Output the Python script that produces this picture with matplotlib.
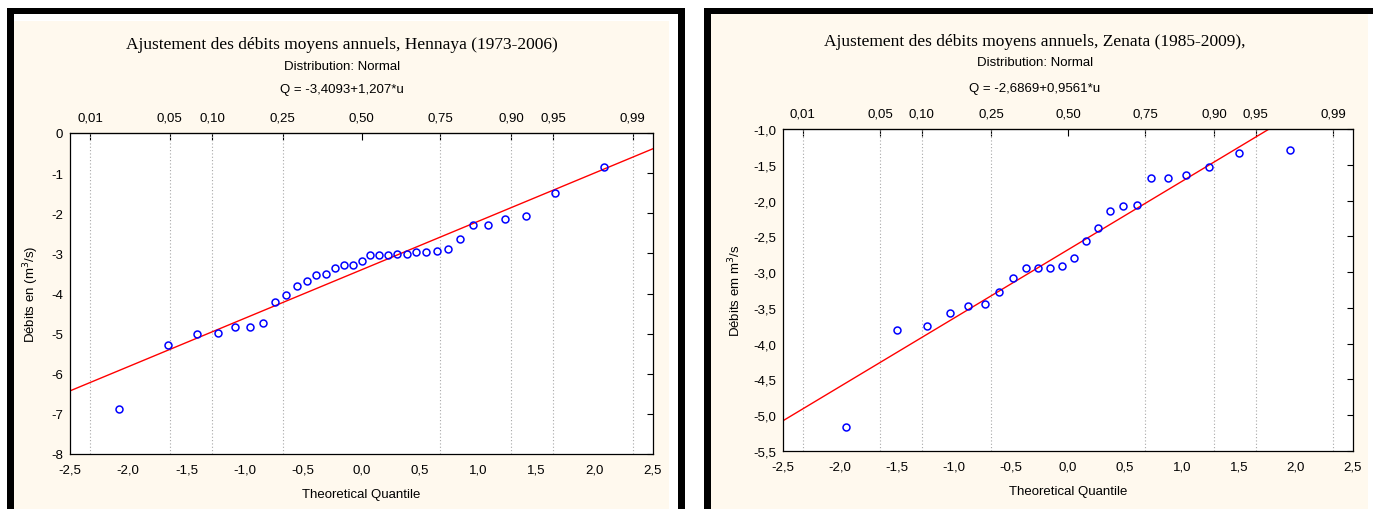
import numpy as np
import matplotlib
matplotlib.use("Agg")
import matplotlib.pyplot as plt
from matplotlib.patches import Rectangle
from statistics import NormalDist

W, H = 1373, 510

# Hennaya (1973-2006): theoretical quantiles and sorted annual flows
hen_u = [-2.079, -1.656, -1.412, -1.231, -1.084, -0.957, -0.844, -0.741, -0.645,
         -0.555, -0.469, -0.386, -0.306, -0.228, -0.151, -0.075, 0.0, 0.075,
         0.151, 0.228, 0.306, 0.386, 0.469, 0.555, 0.645, 0.741, 0.844, 0.957,
         1.084, 1.231, 1.412, 1.656, 2.079]
hen_q = [-6.89, -5.29, -5.02, -4.98, -4.84, -4.83, -4.73, -4.21, -4.03, -3.81,
         -3.70, -3.53, -3.51, -3.37, -3.30, -3.30, -3.19, -3.05, -3.05, -3.05,
         -3.01, -3.01, -2.97, -2.97, -2.95, -2.89, -2.64, -2.29, -2.29, -2.14,
         -2.08, -1.49, -0.85]
hen_fit = (-3.4093, 1.207)

# Zenata (1985-2009)
zen_u = [-1.947, -1.498, -1.235, -1.038, -0.875, -0.732, -0.603, -0.483, -0.370,
         -0.261, -0.156, -0.052, 0.052, 0.156, 0.261, 0.370, 0.483, 0.603,
         0.732, 0.875, 1.038, 1.235, 1.498, 1.947]
zen_q = [-5.17, -3.81, -3.75, -3.57, -3.48, -3.44, -3.28, -3.08, -2.94, -2.94,
         -2.94, -2.91, -2.80, -2.57, -2.39, -2.15, -2.08, -2.06, -1.69, -1.69,
         -1.64, -1.53, -1.33, -1.29]
zen_fit = (-2.6869, 0.9561)

probs = [0.01, 0.05, 0.10, 0.25, 0.50, 0.75, 0.90, 0.95, 0.99]
x_ticks = [-2.5, -2.0, -1.5, -1.0, -0.5, 0.0, 0.5, 1.0, 1.5, 2.0, 2.5]

SANS = "Liberation Sans"
SERIF = "Liberation Serif"
CREAM = "#fff9ee"
FS = 9.5


def fr(x0, y0, x1, y1):
    # pixel box -> figure fraction [left, bottom, width, height]
    return [x0 / W, 1 - y1 / H, (x1 - x0) / W, (y1 - y0) / H]


def comma(v, fmt):
    return (fmt % v).replace(".", ",")


fig = plt.figure(figsize=(W / 100, H / 100), dpi=100)
fig.patch.set_facecolor("white")

# panel frames
for box, col in [((7, 9, 685, 520), "black"), ((14, 15, 678, 520), "white"),
                 ((14, 22, 669, 520), CREAM),
                 ((704, 9, 1380, 520), "black"), ((711, 15, 1380, 520), "white"),
                 ((711, 15, 1368, 520), CREAM)]:
    l, b, w, h = fr(*box)
    fig.add_artist(Rectangle((l, b), w, h, transform=fig.transFigure,
                             facecolor=col, edgecolor="none", zorder=-5))


def qq_panel(box, u, q, fit, ylim, yticks, yfmt, ylabel, texts, tx, ty):
    ax = fig.add_axes(fr(*box))
    ax.set_facecolor("white")
    ax.set_xlim(-2.5, 2.5)
    ax.set_ylim(*ylim)

    pu = [NormalDist().inv_cdf(p) for p in probs]
    ax.set_xticks(pu, minor=True)
    ax.grid(which="minor", axis="x", linestyle=(0, (1, 2)), color="#a8a8a8", lw=0.8)
    ax.set_xticks(x_ticks)
    ax.set_xticklabels([comma(v, "%.1f") for v in x_ticks], fontsize=FS, family=SANS)
    ax.tick_params(axis="x", which="both", length=0, pad=7)
    ax.set_yticks(yticks)
    ax.set_yticklabels([comma(v, yfmt) for v in yticks], fontsize=FS, family=SANS)
    ax.tick_params(axis="y", left=False, right=True, direction="in", length=4, pad=5)

    top = ax.secondary_xaxis("top")
    top.set_xticks(pu)
    top.set_xticklabels([comma(p, "%.2f") for p in probs], fontsize=FS, family=SANS)
    top.tick_params(direction="in", length=5, pad=7)

    for s in ax.spines.values():
        s.set_linewidth(0.9)

    ul = np.array([-2.5, 2.5])
    ax.plot(ul, fit[0] + fit[1] * ul, color="red", lw=1.0)
    ax.plot(u, q, "o", ms=5, mfc="none", mec="blue", mew=1.1)

    ax.set_xlabel("Theoretical Quantile", fontsize=FS, family=SANS, labelpad=9)
    ax.set_ylabel(ylabel, fontsize=FS, family=SANS, labelpad=7)

    fig.text(tx / W, 1 - ty[0] / H, texts[0], ha="center", va="center",
             fontsize=12.5, family=SERIF)
    fig.text(tx / W, 1 - ty[1] / H, "Distribution: Normal", ha="center",
             va="center", fontsize=FS, family=SANS)
    fig.text(tx / W, 1 - ty[2] / H, texts[1], ha="center", va="center",
             fontsize=FS, family=SANS)
    return ax


qq_panel((70, 134, 653, 455), hen_u, hen_q, hen_fit, (-8, 0),
         [0, -1, -2, -3, -4, -5, -6, -7, -8], "%.0f", r"Débits en (m$^3$/s)",
         ["Ajustement des débits moyens annuels, Hennaya (1973-2006)",
          "Q = -3,4093+1,207*u"], 342, (45, 67, 90))

qq_panel((783, 130, 1353, 452), zen_u, zen_q, zen_fit, (-5.5, -1.0),
         [-1.0, -1.5, -2.0, -2.5, -3.0, -3.5, -4.0, -4.5, -5.0, -5.5], "%.1f",
         r"Débits em m$^3$/s",
         ["Ajustement des débits moyens annuels, Zenata (1985-2009),",
          "Q = -2,6869+0,9561*u"], 1035, (42, 63, 89))

fig.savefig("out.png", dpi=100)
